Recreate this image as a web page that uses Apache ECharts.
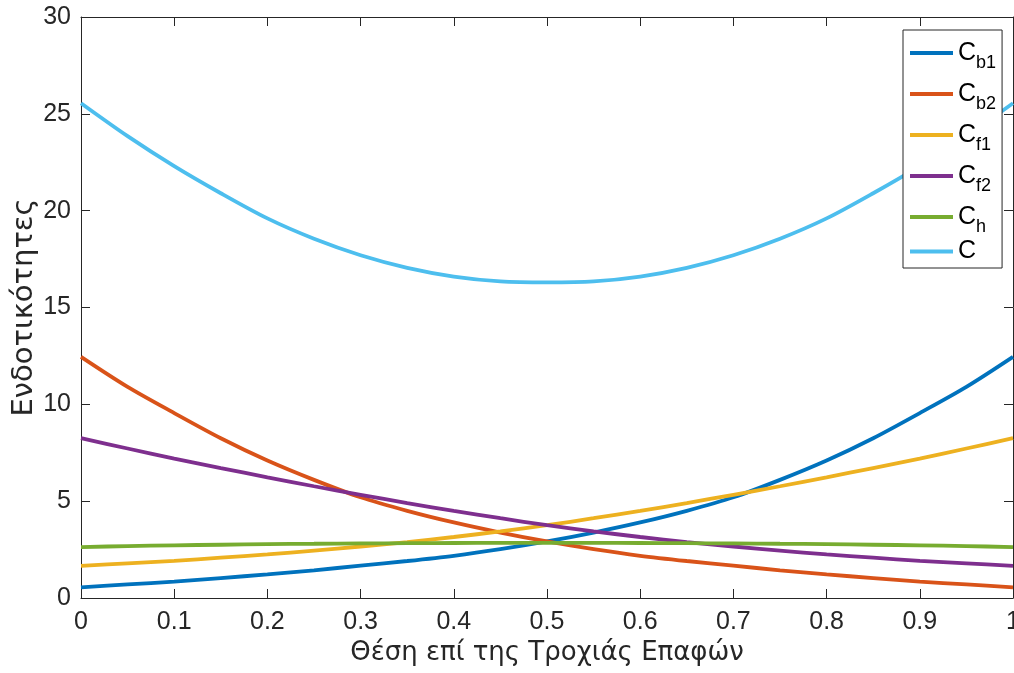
<!DOCTYPE html>
<html>
<head>
<meta charset="utf-8">
<title>Ενδοτικότητες</title>
<script src="https://cdn.jsdelivr.net/npm/echarts@6/dist/echarts.min.js"></script>
<style>
  html, body { margin: 0; padding: 0; background: #ffffff; }
  #chart { width: 1014px; height: 673px; }
</style>
</head>
<body>
<div id="chart"></div>
<script>
// Position along the contact path (normalised 0..1)
const position = [0, 0.05, 0.1, 0.15, 0.2, 0.25, 0.3, 0.35, 0.4, 0.45, 0.5,
                  0.55, 0.6, 0.65, 0.7, 0.75, 0.8, 0.85, 0.9, 0.95, 1];

// Compliance components
const Cb1 = [0.55, 0.70, 0.85, 1.03, 1.22, 1.43, 1.67, 1.91, 2.18, 2.52, 2.92,
             3.38, 3.90, 4.50, 5.20, 6.10, 7.10, 8.25, 9.55, 10.90, 12.45];
const Cb2 = [12.45, 10.90, 9.55, 8.25, 7.10, 6.10, 5.20, 4.50, 3.90, 3.38, 2.92,
             2.52, 2.18, 1.91, 1.67, 1.43, 1.22, 1.03, 0.85, 0.70, 0.55];
const Cf1 = [1.66, 1.79, 1.92, 2.08, 2.25, 2.45, 2.66, 2.89, 3.15, 3.44, 3.76,
             4.12, 4.50, 4.90, 5.33, 5.77, 6.23, 6.71, 7.20, 7.72, 8.25];
const Cf2 = [8.25, 7.72, 7.20, 6.71, 6.23, 5.77, 5.33, 4.90, 4.50, 4.12, 3.76,
             3.44, 3.15, 2.89, 2.66, 2.45, 2.25, 2.08, 1.92, 1.79, 1.66];
const Ch  = [2.63, 2.68, 2.72, 2.75, 2.78, 2.80, 2.82, 2.83, 2.84, 2.85, 2.85,
             2.85, 2.84, 2.83, 2.82, 2.80, 2.78, 2.75, 2.72, 2.68, 2.63];
const C   = [25.55, 23.85, 22.30, 20.90, 19.60, 18.55, 17.70, 17.05, 16.60, 16.35, 16.30,
             16.35, 16.60, 17.05, 17.70, 18.55, 19.60, 20.90, 22.30, 23.85, 25.55];

const seriesNames = ['Cb1', 'Cb2', 'Cf1', 'Cf2', 'Ch', 'C'];
const seriesValues = [Cb1, Cb2, Cf1, Cf2, Ch, C];
const colors = ['#0072BD', '#D95319', '#EDB120', '#7E2F8E', '#77AC30', '#4DBEEE'];

const axisColor = '#262626';
const fontFamily = '"Liberation Sans", Arial, Helvetica, sans-serif';
const nameFont = '"DejaVu Sans", "Liberation Sans", Arial, sans-serif';

const chart = echarts.init(document.getElementById('chart'), null, { renderer: 'canvas' });

const pairs = arr => position.map((x, i) => [x, arr[i]]);

const baseAxis = {
  axisLine: { show: true, onZero: false, lineStyle: { color: axisColor, width: 1 } },
  axisTick: { show: true, inside: true, length: 9, lineStyle: { color: axisColor, width: 1 } },
  splitLine: { show: false }
};

const option = {
  animation: false,
  backgroundColor: '#ffffff',
  color: colors,
  grid: { left: 81, right: 1, top: 17, bottom: 75, containLabel: false, outerBoundsMode: 'none' },
  xAxis: [
    Object.assign({}, baseAxis, {
      type: 'value', position: 'bottom', min: 0, max: 1, interval: 0.1,
      name: 'Θέση επί της Τροχιάς Επαφών',
      nameLocation: 'middle', nameGap: 42,
      nameTextStyle: { color: axisColor, fontSize: 26, fontFamily: nameFont },
      axisLabel: { color: axisColor, fontSize: 25, fontFamily: fontFamily, margin: 12 }
    }),
    Object.assign({}, baseAxis, {
      type: 'value', position: 'top', min: 0, max: 1, interval: 0.1,
      axisLabel: { show: false }
    })
  ],
  yAxis: [
    Object.assign({}, baseAxis, {
      type: 'value', position: 'left', min: 0, max: 30, interval: 5,
      name: 'Ενδοτικότητες',
      nameLocation: 'middle', nameGap: 42, nameRotate: 90, nameMoveOverlap: false,
      nameTextStyle: { color: axisColor, fontSize: 29, fontFamily: nameFont },
      axisLabel: { color: axisColor, fontSize: 25, fontFamily: fontFamily, margin: 10 }
    }),
    Object.assign({}, baseAxis, {
      type: 'value', position: 'right', min: 0, max: 30, interval: 5,
      axisLabel: { show: false }
    })
  ],
  legend: {
    orient: 'vertical',
    left: 903, top: 30,
    padding: [4, 6, 4, 7],
    itemGap: 3,
    itemWidth: 43,
    itemHeight: 4,
    icon: 'rect',
    backgroundColor: '#ffffff',
    borderColor: '#262626',
    borderWidth: 1,
    data: seriesNames,
    formatter: name => name.length > 1 ? '{c|C}{s|' + name.slice(1) + '}' : '{c|C}',
    textStyle: {
      color: axisColor,
      fontFamily: fontFamily,
      rich: {
        c: { fontSize: 25, lineHeight: 26, fontFamily: fontFamily, color: '#000000' },
        s: { fontSize: 18, lineHeight: 17, padding: [20, 0, 0, 0], fontFamily: fontFamily, color: '#000000' }
      }
    }
  },
  series: seriesNames.map((name, i) => ({
    name: name,
    type: 'line',
    xAxisIndex: 0,
    yAxisIndex: 0,
    data: pairs(seriesValues[i]),
    smooth: 0.3,
    showSymbol: false,
    symbol: 'none',
    lineStyle: { width: 3.8, color: colors[i] },
    itemStyle: { color: colors[i] }
  }))
};

chart.setOption(option);
</script>
</body>
</html>
